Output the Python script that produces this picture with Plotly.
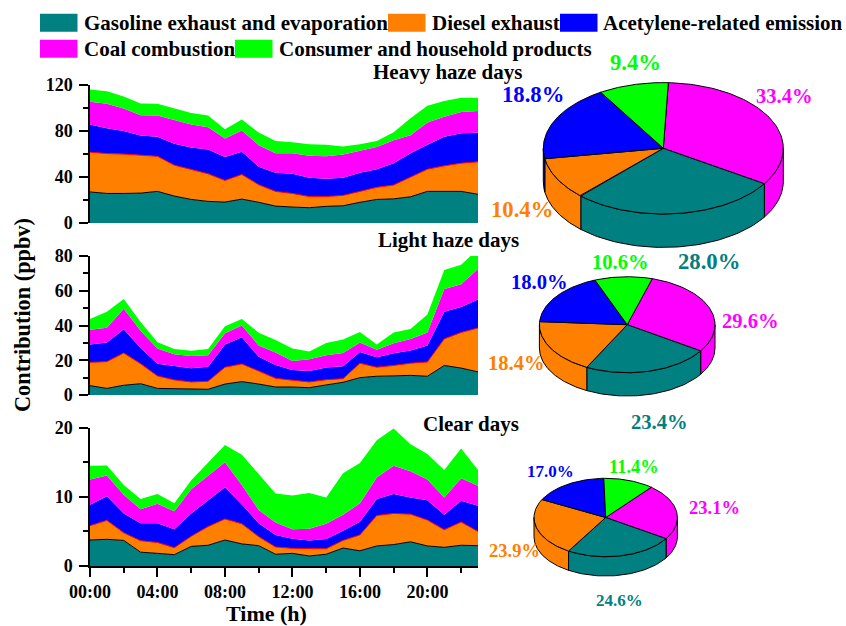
import numpy as np
import plotly.graph_objects as go

hours = list(range(24))
tick_hours = [0, 4, 8, 12, 16, 20]
tick_labels = ["00:00", "04:00", "08:00", "12:00", "16:00", "20:00"]
sources = ["Gasoline exhaust and evaporation", "Diesel exhaust", "Acetylene-related emission",
           "Coal combustion", "Consumer and household products"]

heavy_gasoline = [27,25.7,25.7,26,27.5,23.4,20.5,18.8,18.2,20.8,18,14.7,13.9,13.3,14.5,15,18,20.5,21,22.8,27.5,27.5,27.5,25]
heavy_diesel = [34.6,34.7,34.2,32.7,30.5,26.9,25.8,24,18.8,21.4,15.3,12.8,11.8,9.7,8.5,9,9.5,10.5,12,17.2,19.3,22.2,24.5,28.2]
heavy_acetylene = [24,22,20.1,17.3,17,18.7,19.3,21.2,20.5,19.8,15.7,16.2,17.1,16.3,15.5,15.3,16.2,15.8,19,20.7,21.2,25.3,26,25.2]
heavy_coal = [19.9,21.4,19.5,17.7,18.4,20.4,20,19.3,16,18.4,18.7,17,17.9,19.1,19.5,20.3,19.1,19.2,20,15.6,19.3,17.5,18.6,19.1]
heavy_consumer = [10.5,10.7,10.5,10.3,10.4,10.1,10.1,10.1,8,9.6,11,10.7,9.6,10.1,10,6.9,5.7,5.4,7,14.7,14.7,13.5,12.4,11.5]

light_gasoline = [5.4,3.8,5.6,6.5,3.8,3.5,3.3,3.3,6.3,7.7,6.3,4.6,4.6,4.2,5.8,7.3,10,10.8,11,11.3,10.8,17,15.5,13.3]
light_diesel = [13.4,15.4,18.6,11.5,7.2,5.2,4.2,4.6,9.7,10.2,7.5,5,3.9,3.3,3,2.1,8.3,5.2,6,7,8.2,15.3,20.5,25.3]
light_acetylene = [10.2,11,13.7,9,7,7.8,7.9,8.4,13,15.4,8.2,7.7,5.9,6.3,7,7.1,6.5,5.7,7,7.3,9.5,15.6,14.6,16.4]
light_coal = [8.5,8.5,11.7,10,8.7,7,7.1,6.6,6.6,6.7,6.5,7.1,5.2,6.8,7.1,7.7,5.4,4.3,5.8,6.7,7.5,13.1,13.2,17.5]
light_consumer = [6.2,9.2,5.6,5,3.7,3,2.9,3.6,4,3.7,7.3,7.3,7.1,4.4,7.1,7.8,6.1,3,6.2,5.7,10.3,11,11.2,11.5]

clear_gasoline = [3.76,3.86,3.7,2.0,1.83,1.64,2.84,3.0,3.76,3.2,2.94,1.7,1.83,1.45,1.7,2.6,2.2,2.9,3.1,3.5,2.9,2.7,3.0,2.94]
clear_diesel = [2.07,2.74,1.1,1.66,1.57,1.01,1.46,2.7,3.04,2.9,1.3,1.05,.72,1.05,.8,1.1,2.3,4.4,4.5,4,3.75,2.55,3.36,2.06]
clear_acetylene = [3.04,3.5,2.8,2.54,2.8,2.65,3.3,3.8,4.6,2.8,1.96,1.75,1.4,1.2,1.4,1.4,1.9,2.4,2.8,2.4,2.85,2.15,3.09,3.7]
clear_coal = [3.63,3,2.7,2,2.8,2.6,3.5,3.6,3.6,2.8,1.9,1.8,1.35,1.7,2.2,2.3,2.66,3.1,4.1,3.8,3,2.5,3.25,2.9]
clear_consumer = [2,1.45,1.4,1.5,1.4,1.16,1.3,1.9,2.5,4.4,5.2,4.2,4.9,5.15,3.8,6,5.84,5.4,5.4,3.9,3.7,4,4.3,2.3]

# pie shares, clockwise from the start angle: coal, gasoline, diesel, acetylene, consumer
heavy_shares = [33.4, 28.0, 10.4, 18.8, 9.4]
light_shares = [29.6, 23.4, 18.4, 18.0, 10.6]
clear_shares = [23.1, 24.6, 23.9, 17.0, 11.4]

TEAL, ORANGE, BLUE, MAG, GREEN = "#008080", "#FF8000", "#0000FF", "#FF00FF", "#00FF00"
SOURCE_COLORS = [TEAL, ORANGE, BLUE, MAG, GREEN]
PIE_COLORS = [MAG, TEAL, ORANGE, BLUE, GREEN]
W, H = 846, 626
FONT = "Liberation Serif"

def px(x): return x / W
def py(y): return 1 - y / H

fig = go.Figure()

panels = [
    ("", "", (85, 223), 120, 40, 20, [heavy_gasoline, heavy_diesel, heavy_acetylene, heavy_coal, heavy_consumer]),
    ("2", "2", (256, 395), 80, 20, 10, [light_gasoline, light_diesel, light_acetylene, light_coal, light_consumer]),
    ("3", "3", (427.7, 566), 20, 10, 5, [clear_gasoline, clear_diesel, clear_acetylene, clear_coal, clear_consumer]),
]
tick_font = dict(family=FONT, size=18, color="black", weight="bold")
for idx, (xs, ys, (top, bottom), ymax, major, minor, series) in enumerate(panels):
    for j, vals in enumerate(series):
        line_col = {0: "black", 1: "#FF0000"}.get(j, SOURCE_COLORS[j])
        fig.add_trace(go.Scatter(
            x=hours, y=vals, name=sources[j], mode="lines", stackgroup=f"g{idx}",
            fillcolor=SOURCE_COLORS[j], line=dict(color=line_col, width=1 if j < 2 else 0),
            showlegend=False, xaxis="x" + xs, yaxis="y" + ys))
    is_last = idx == 2
    fig.update_layout({
        "xaxis" + xs: dict(
            domain=[px(90), px(478)], range=[0, 23], anchor="y" + ys, visible=is_last, automargin=False,
            showgrid=False, zeroline=False, showline=True, linecolor="black", linewidth=1.5,
            tickmode="array", tickvals=tick_hours, ticktext=tick_labels, ticks="outside",
            ticklen=9, tickwidth=1.5, tickcolor="black", tickfont=tick_font,
            minor=dict(tickmode="array", tickvals=[2, 6, 10, 14, 18, 22], ticks="outside",
                       ticklen=5, tickwidth=1.5, tickcolor="black", showgrid=False)),
        "yaxis" + ys: dict(
            domain=[py(bottom), py(top)], range=[0, ymax], anchor="x" + xs, automargin=False,
            showgrid=False, zeroline=False, showline=True, linecolor="black", linewidth=1.5,
            tick0=0, dtick=major, ticks="outside", ticklen=9, tickwidth=1.5, tickcolor="black",
            tickfont=tick_font, ticklabelstandoff=3,
            minor=dict(tick0=0, dtick=minor, ticks="outside", ticklen=5, tickwidth=1.5,
                       tickcolor="black", showgrid=False)),
    })

# overlay axes in page pixels for the drawn-in-perspective pies
fig.update_layout(
    xaxis4=dict(domain=[0, 1], range=[0, W], visible=False, anchor="y4", fixedrange=True, automargin=False),
    yaxis4=dict(domain=[0, 1], range=[H, 0], visible=False, anchor="x4", fixedrange=True, automargin=False),
)

def pie3d(shares, cx, cy, rx, ry, depth, start):
    edges = start - np.cumsum([0] + list(shares)) * 3.6
    # side walls first
    for k, col in enumerate(PIE_COLORS):
        a, b = edges[k], edges[k + 1]
        a2, b2 = min(a, 0), max(b, -180)
        if a2 <= b2:
            continue
        t = np.radians(np.linspace(a2, b2, 60))
        xo = cx + rx * np.cos(t)
        yo = cy - ry * np.sin(t)
        fig.add_trace(go.Scatter(
            x=np.r_[xo, xo[::-1], xo[0]], y=np.r_[yo, yo[::-1] + depth, yo[0]],
            mode="lines", fill="toself", fillcolor=col, line=dict(color="black", width=1),
            showlegend=False, hoverinfo="skip", xaxis="x4", yaxis="y4"))
    # top faces
    for k, col in enumerate(PIE_COLORS):
        t = np.radians(np.linspace(edges[k], edges[k + 1], 80))
        x = np.r_[cx, cx + rx * np.cos(t), cx]
        y = np.r_[cy, cy - ry * np.sin(t), cy]
        fig.add_trace(go.Scatter(
            x=x, y=y, mode="lines", fill="toself", fillcolor=col,
            line=dict(color="black", width=1), name=f"{shares[k]}%",
            showlegend=False, xaxis="x4", yaxis="y4"))

pie3d(heavy_shares, 663.3, 148.3, 120, 65.7, 33.4, 87.6)
pie3d(light_shares, 627.2, 324.7, 87.8, 48, 23.3, 73.4)
pie3d(clear_shares, 605.7, 517.5, 71.7, 39.2, 19.3, 50.5)

def note(text, x, y, size, color="black", angle=0):
    fig.add_annotation(text=text, xref="paper", yref="paper", x=px(x), y=py(y), showarrow=False,
                       xanchor="center", yanchor="middle", textangle=angle,
                       font=dict(family=FONT, size=size, color=color, weight="bold"))

def fmt(v): return f"{v:.1f}%"

# pie labels
for share, col, x, y, s in [
    (heavy_shares[4], GREEN, 635, 62.7, 22.7), (heavy_shares[3], BLUE, 532.7, 94.3, 22.7),
    (heavy_shares[0], MAG, 784.7, 96, 20.6), (heavy_shares[2], ORANGE, 521.7, 209.3, 22.7),
    (heavy_shares[1], TEAL, 709, 261.7, 22.7),
    (light_shares[4], GREEN, 620, 261.7, 20.6), (light_shares[3], BLUE, 539.3, 282.3, 20.6),
    (light_shares[0], MAG, 750.7, 321, 20.6), (light_shares[2], ORANGE, 516.7, 363.3, 20.6),
    (light_shares[1], TEAL, 659, 421.7, 20.6),
    (clear_shares[4], GREEN, 634, 467.3, 18.5), (clear_shares[3], BLUE, 550.3, 471.7, 17),
    (clear_shares[0], MAG, 714.3, 507.7, 18.5), (clear_shares[2], ORANGE, 514.3, 551, 18.5),
    (clear_shares[1], TEAL, 619.3, 600, 17),
]:
    note(fmt(share), x, y, s, col)

# panel titles and axis titles
note("Heavy haze days", 447, 72, 21)
note("Light haze days", 448.7, 240, 21)
note("Clear days", 471, 424, 21)
note("Contribution (ppbv)", 22, 315, 22.3, angle=-90)
note("Time (h)", 266.5, 613.4, 22)

# legend
legend_items = [(0, 40, 81.5, 13.7), (1, 388, 430, 13.7), (2, 560, 601, 13.7),
                (3, 40, 81.5, 39.7), (4, 235, 277, 39.7)]
for j, sx, tx, sy in legend_items:
    fig.add_shape(type="rect", xref="paper", yref="paper", x0=px(sx), x1=px(sx + 37.5),
                  y0=py(sy), y1=py(sy + 18), fillcolor=SOURCE_COLORS[j], line=dict(width=0))
    fig.add_annotation(text=sources[j], xref="paper", yref="paper", x=px(tx), y=py(sy + 9),
                       showarrow=False, xanchor="left", yanchor="middle",
                       font=dict(family=FONT, size=21, color="black", weight="bold"))

fig.update_layout(width=W, height=H, margin=dict(l=0, r=0, t=0, b=0),
                  paper_bgcolor="white", plot_bgcolor="rgba(0,0,0,0)", showlegend=False)
fig.write_html("out.html", config={"displayModeBar": False},
               post_script="document.body.style.margin='0';")
